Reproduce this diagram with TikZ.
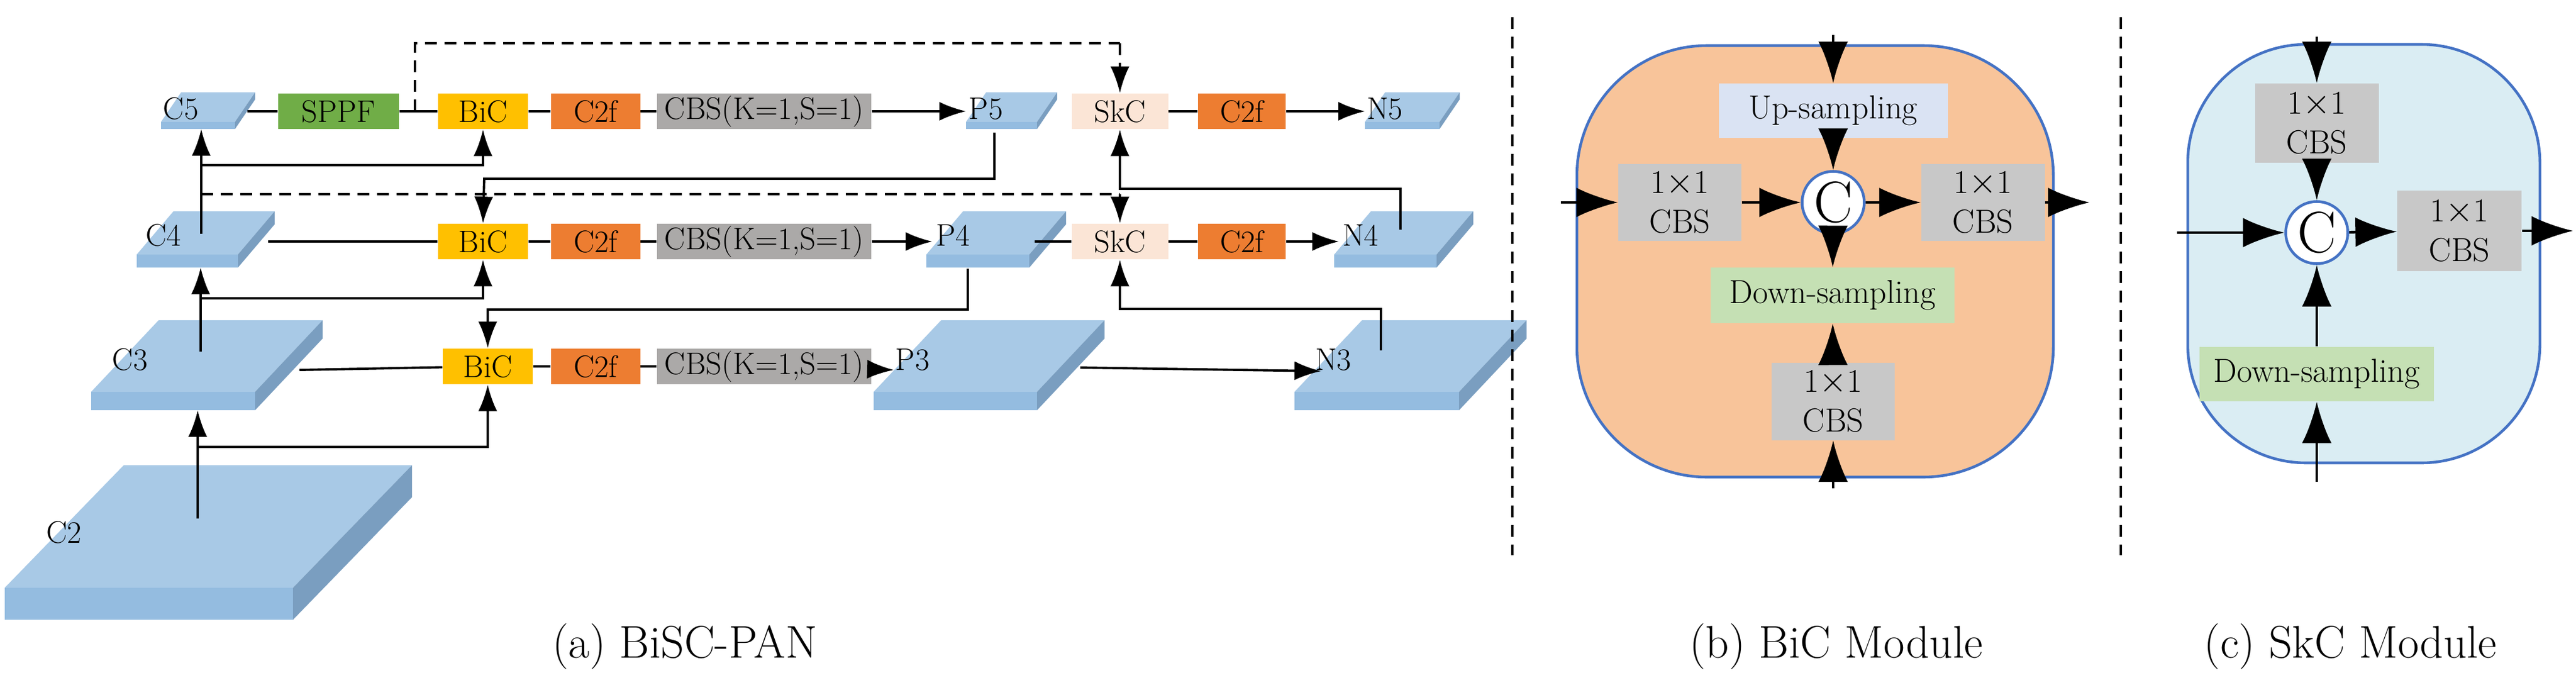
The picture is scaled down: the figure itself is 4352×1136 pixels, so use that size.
\documentclass[tikz,border=0pt]{standalone}
\usetikzlibrary{arrows.meta}
\definecolor{slabtop}{HTML}{A8C9E6}
\definecolor{slabfront}{HTML}{94BCE0}
\definecolor{slabside}{HTML}{7A9EC0}
\definecolor{sppf}{HTML}{70AD47}
\definecolor{bic}{HTML}{FFC000}
\definecolor{cf}{HTML}{ED7D31}
\definecolor{cbs}{HTML}{ABA9A8}
\definecolor{skc}{HTML}{FBE5D6}
\definecolor{mcbs}{HTML}{C8C8C8}
\definecolor{bicbg}{HTML}{F8C49A}
\definecolor{skcbg}{HTML}{DAEDF3}
\definecolor{upc}{HTML}{DAE3F3}
\definecolor{downc}{HTML}{C5E0B4}
\definecolor{border}{HTML}{4472C4}
\newcommand{\myslab}[7]{%
 \fill[slabtop] (#1,#3-#4) -- (#1+#2,#3-#4) -- (#1+#2+#5,#3-#4-#6) -- (#1+#5,#3-#4-#6) -- cycle;
 \fill[slabfront] (#1,#3-#4) rectangle (#1+#2,#3);
 \fill[slabside] (#1+#2,#3) -- (#1+#2,#3-#4) -- (#1+#2+#5,#3-#4-#6) -- (#1+#2+#5,#3-#6) -- cycle;
 \node[lab] (#7) at (#1+0.4*#5+20,#3-#4-0.45*#6) {#7};}
\begin{document}
\begin{tikzpicture}[x=0.1mm,y=-0.1mm,
 lab/.style={font=\fontsize{15}{15}\selectfont,inner sep=0},
 box/.style={minimum height=6mm,inner sep=0,font=\fontsize{15}{15}\selectfont},
 mbox/.style={inner sep=0,font=\fontsize{16}{19}\selectfont,align=center},
 ln/.style={line width=1.1pt},
 ar/.style={line width=1.1pt,-{Latex[length=4.5mm,width=3.2mm]}},
 mar/.style={line width=1.3pt,-{Latex[length=7mm,width=5mm]}},
 dsh/.style={line width=1.1pt,dash pattern=on 2mm off 1.3mm},
 cc/.style={circle,draw=border,line width=1.3pt,fill=white,minimum size=10.5mm,inner sep=0,font=\fontsize{28}{28}\selectfont}]
\useasboundingbox (0,0) rectangle (4352,1136);
% slabs
\myslab{8}{487}{1047}{54}{201}{207}{C2}
\myslab{154}{277}{693}{31}{114}{121}{C3}
\myslab{231}{171}{452}{22}{62}{73}{C4}
\myslab{272}{125}{218}{12}{34}{50}{C5}
\myslab{1632}{120}{218}{12}{34}{50}{P5}
\myslab{1565}{174}{452}{22}{62}{73}{P4}
\myslab{1476}{276}{693}{31}{114}{121}{P3}
\myslab{2306}{126}{218}{12}{34}{50}{N5}
\myslab{2254}{173}{452}{22}{62}{73}{N4}
\myslab{2187}{278}{693}{31}{114}{121}{N3}
% row boxes
\node[box,fill=sppf,minimum width=20.4mm] (sppf) at (572,188) {SPPF};
\foreach \r/\y/\bx in {1/188/816,2/408/816,3/619/824}{
 \node[box,fill=bic,minimum width=15.2mm] (bic\r) at (\bx,\y) {BiC};
 \node[box,fill=cf,minimum width=15.1mm] (cf\r) at (1006,\y) {C2f};
 \node[box,fill=cbs,minimum width=36.2mm] (cbs\r) at (1291,\y) {CBS(K=1,S=1)};
 \draw[ln] (bic\r) -- (cf\r); \draw[ln] (cf\r) -- (cbs\r);}
\foreach \r/\y in {1/188,2/408}{
 \node[box,fill=skc,minimum width=16.3mm] (skc\r) at (1892,\y) {SkC};
 \node[box,fill=cf,minimum width=14.8mm] (cg\r) at (2098,\y) {C2f};
 \draw[ln] (skc\r) -- (cg\r);}
% coordinates
\coordinate (c5r) at (418,188); \coordinate (c4r) at (453,408); \coordinate (c3r) at (506,625);
\coordinate (p5in) at (1632,188); \coordinate (p4in) at (1575,408); \coordinate (p3in) at (1510,625);
\coordinate (n5in) at (2306,188); \coordinate (n4in) at (2262,408);
\coordinate (p4out) at (1748,408);
\coordinate (n3a) at (1825,621); \coordinate (n3b) at (2232,627);
\coordinate (dash1) at (701,188);
% row lines
\draw[ln] (c5r) -- (sppf); \draw[ln] (sppf) -- (bic1);
\draw[ar] (cbs1) -- (p5in); \draw[ar] (cg1) -- (n5in);
\draw[ln] (c4r) -- (bic2); \draw[ar] (cbs2) -- (p4in); \draw[ln] (p4out) -- (skc2); \draw[ar] (cg2) -- (n4in);
\draw[ln] (c3r) -- (bic3); \draw[ar] (cbs3) -- (p3in); \draw[ar] (n3a) -- (n3b);
% dashed
\draw[dsh] (dash1) -- (701,73) -- (1892,73);
\draw[dsh,-{Latex[length=4.5mm,width=3.2mm]}] (1892,73) -- (skc1.north);
\draw[dsh] (340,328) -- (1892,328);
\draw[dsh,-{Latex[length=4.5mm,width=3.2mm]}] (1892,328) -- (skc2.north);
% verticals
\coordinate (c4t) at (340,395); \coordinate (c5b) at (340,218);
\draw[ar] (c4t) -- (c5b); \draw[ar] (340,279) -| (bic1.south);
\coordinate (p5b) at (1680,224); \draw[ar] (p5b) |- (818,302) -- (bic2.north);
\coordinate (n4t) at (2366,388); \draw[ar] (n4t) |- (1892,319) -- (skc1.south);
\coordinate (c3t) at (339,594); \coordinate (c4b) at (339,452);
\draw[ar] (c3t) -- (c4b); \draw[ar] (339,504) -| (bic2.south);
\coordinate (p4b) at (1635,454); \draw[ar] (p4b) |- (824,523) -- (bic3.north);
\coordinate (n3t) at (2333,592); \draw[ar] (n3t) |- (1892,522) -- (skc2.south);
\coordinate (c2t) at (334,876); \coordinate (c3b) at (334,693);
\draw[ar] (c2t) -- (c3b); \draw[ar] (334,755) -| (bic3.south);
% separators
\draw[dsh] (2555,29) -- (2555,938);
\draw[dsh] (3583,29) -- (3583,938);
% BiC module
\draw[border,fill=bicbg,line width=1.3pt,rounded corners=22mm] (2664,77) rectangle (3469,806);
\node[mbox,fill=upc,minimum width=38.7mm,minimum height=9.2mm] (up) at (3097,187) {Up-sampling};
\node[mbox,fill=mcbs,minimum width=20.8mm,minimum height=13mm] (lc) at (2838,342) {1$\times$1\\CBS};
\node[cc] (cb) at (3097,342) {C};
\node[mbox,fill=mcbs,minimum width=20.9mm,minimum height=13mm] (rc) at (3350,342) {1$\times$1\\CBS};
\node[mbox,fill=downc,minimum width=41.2mm,minimum height=9.4mm] (dn) at (3096,499) {Down-sampling};
\node[mbox,fill=mcbs,minimum width=20.8mm,minimum height=13.1mm] (bc) at (3097,678) {1$\times$1\\CBS};
\coordinate (bt) at (3097,59); \coordinate (bl) at (2637,342); \coordinate (br) at (3530,342); \coordinate (bb) at (3097,825);
\draw[mar] (bt) -- (up); \draw[mar] (up) -- (cb); \draw[mar] (bl) -- (lc); \draw[mar] (lc) -- (cb);
\draw[mar] (cb) -- (rc); \draw[mar] (rc) -- (br); \draw[mar] (cb) -- (dn); \draw[mar] (bb) -- (bc); \draw[mar] (bc) -- (dn);
% SkC module
\draw[border,fill=skcbg,line width=1.3pt,rounded corners=20mm] (3696,75) rectangle (4291,782);
\node[mbox,fill=mcbs,minimum width=20.9mm,minimum height=13.4mm] (tc) at (3914,208) {1$\times$1\\CBS};
\node[cc] (cs) at (3914,393) {C};
\node[mbox,fill=mcbs,minimum width=21mm,minimum height=13.6mm] (sc) at (4155,390) {1$\times$1\\CBS};
\node[mbox,fill=downc,minimum width=39.6mm,minimum height=9.2mm] (sd) at (3914,632) {Down-sampling};
\coordinate (st) at (3914,62); \coordinate (sl) at (3678,393); \coordinate (sr) at (4347,390); \coordinate (sb) at (3914,814);
\draw[mar] (st) -- (tc); \draw[mar] (tc) -- (cs); \draw[mar] (sl) -- (cs); \draw[mar] (cs) -- (sc);
\draw[mar] (sc) -- (sr); \draw[mar] (sd) -- (cs); \draw[mar] (sb) -- (sd);
% captions
\node[font=\fontsize{22}{22}\selectfont] (ca) at (1157,1092) {(a) BiSC-PAN};
\node[font=\fontsize{22}{22}\selectfont] (cb2) at (3102,1092) {(b) BiC Module};
\node[font=\fontsize{22}{22}\selectfont] (cc2) at (3971,1092) {(c) SkC Module};
\end{tikzpicture}
\end{document}
